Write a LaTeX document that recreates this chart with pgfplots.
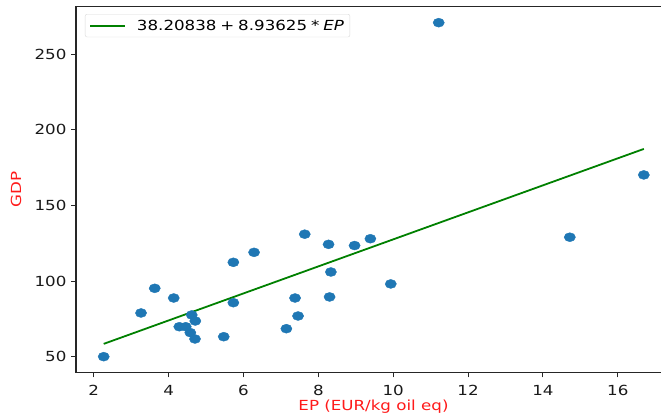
\documentclass[border=0pt]{standalone}
\usepackage{pgfplots}
\pgfplotsset{compat=1.18}
\usepackage{pgfplotstable}
\usepackage{fontspec}
\setmainfont{DejaVu Sans}[FakeStretch=1.2]
\definecolor{dotblue}{HTML}{1F77B4}
\definecolor{fitgreen}{HTML}{008000}
\definecolor{labelred}{HTML}{FF1A1A}

% energy productivity vs. GDP, one row per country
\pgfplotstableread{
ep gdp
2.267 50.0
3.264 78.9
3.630 95.2
4.137 88.8
4.287 69.8
4.458 69.8
4.618 77.6
4.714 73.6
4.581 65.9
4.706 61.7
5.473 63.2
5.730 85.7
5.730 112.4
6.283 119.0
7.146 68.5
7.378 88.8
7.458 76.9
7.637 131.0
8.273 124.3
8.335 106.0
8.300 89.5
8.968 123.5
9.390 128.0
9.935 98.1
11.215 270.9
14.717 129.0
16.694 170.2
}\datatable

% fitted line 38.20838 + 8.93625*EP at both ends of the data range
\pgfplotstableread{
ep gdp
2.267 58.467
16.694 187.393
}\fittable

\newcommand{\lbl}{\fontsize{13.9}{15}\selectfont}

\begin{document}
\begin{tikzpicture}
\begin{axis}[
  at={(76pt,46pt)}, anchor=south west,
  scale only axis, width=595pt, height=366.5pt,
  xmin=1.527, xmax=17.42, ymin=39.2, ymax=281.6,
  xtick={2,4,...,16}, ytick={50,100,...,250},
  tick align=outside, tick pos=left,
  major tick length=4.5pt,
  every tick/.style={black!85, line width=1pt},
  axis line style={black!85, line width=1pt},
  /pgf/number format/assume math mode=true,
  tick label style={font=\lbl, text=black!90},
  xticklabel style={yshift=-4pt},
  yticklabel style={xshift=-1.5pt},
  xlabel={EP (EUR/kg oil eq)},
  ylabel={GDP},
  every axis x label/.style={at={(axis description cs:0.5,0)}, anchor=center, yshift=-34pt, font=\lbl, text=labelred},
  every axis y label/.style={at={(axis description cs:-0.1008,0.5)}, anchor=center, rotate=90, font=\lbl, text=labelred},
  legend cell align=left,
  legend style={at={(axis description cs:0.0151,0.9795)}, anchor=north west,
    draw=black!15, fill=white, rounded corners=2pt, font=\lbl,
    inner xsep=4pt, inner ysep=3.5pt, column sep=9pt},
  legend image code/.code={\draw[#1] (0pt,0pt) -- (35pt,0pt);},
]
\addplot[dotblue, only marks, mark=*, mark size=4.5pt,
  mark options={xscale=1.25, fill=dotblue, draw=dotblue, line width=0.4pt}, forget plot]
  table[x=ep, y=gdp] {\datatable};
\addplot[fitgreen, line width=1.8pt] table[x=ep, y=gdp] {\fittable};
\addlegendentry{38.20838\;+\;8.93625\;*\;\textit{EP}}
\end{axis}
\pgfresetboundingbox
\path (0,0) rectangle (661pt,419pt);
\end{tikzpicture}
\end{document}
